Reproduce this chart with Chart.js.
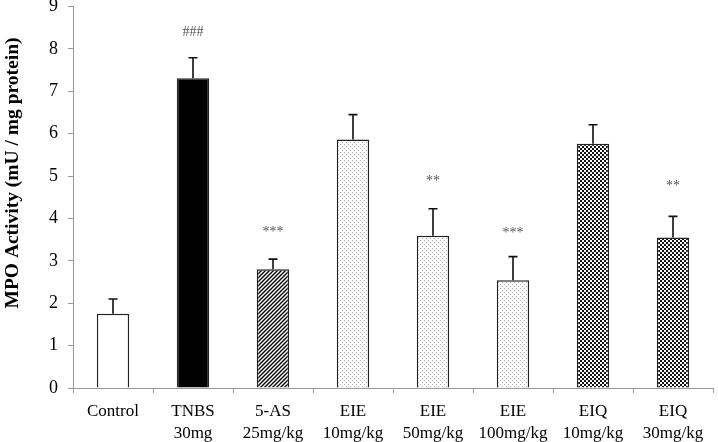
<!DOCTYPE html>
<html>
<head>
<meta charset="utf-8">
<script src="https://cdn.jsdelivr.net/npm/chart.js@4/dist/chart.umd.min.js"></script>
<style>
  html, body { margin: 0; padding: 0; background: #fff; }
  #wrap { width: 718px; height: 442px; position: relative; }
</style>
</head>
<body>
<div id="wrap"><canvas id="c" width="718" height="442"></canvas></div>
<script>
const categories = [
  ['Control'],
  ['TNBS', '30mg'],
  ['5-AS', '25mg/kg'],
  ['EIE', '10mg/kg'],
  ['EIE', '50mg/kg'],
  ['EIE', '100mg/kg'],
  ['EIQ', '10mg/kg'],
  ['EIQ', '30mg/kg']
];
const mpoValues = [1.75, 7.31, 2.80, 5.86, 3.59, 2.54, 5.76, 3.55];
const mpoErrors = [0.35, 0.48, 0.24, 0.59, 0.64, 0.56, 0.45, 0.50];
const significance = ['', '###', '***', '', '**', '***', '', '**'];
const significanceY = [0, 8.38, 3.68, 0, 4.87, 3.66, 0, 4.76];
const fillKinds = ['white', 'black', 'hatch', 'dots', 'dots', 'dots', 'checker', 'checker'];
const yTicks = [0, 1, 2, 3, 4, 5, 6, 7, 8, 9];
const yTitle = 'MPO Activity (mU / mg protein)';

function makePattern(kind) {
  if (kind === 'white') return '#ffffff';
  if (kind === 'black') return '#000000';
  const t = document.createElement('canvas');
  const ctx = t.getContext('2d');
  if (kind === 'hatch') {
    t.width = 4; t.height = 4;
    ctx.fillStyle = '#fff'; ctx.fillRect(0, 0, 4, 4);
    ctx.strokeStyle = '#000'; ctx.lineWidth = 1.4;
    ctx.beginPath();
    ctx.moveTo(-1, 5); ctx.lineTo(5, -1);
    ctx.moveTo(-1, 1); ctx.lineTo(1, -1);
    ctx.moveTo(3, 5); ctx.lineTo(5, 3);
    ctx.stroke();
  } else if (kind === 'dots') {
    t.width = 4; t.height = 4;
    ctx.fillStyle = '#fff'; ctx.fillRect(0, 0, 4, 4);
    ctx.fillStyle = '#a8a8a8';
    ctx.fillRect(0, 0, 1, 1);
    ctx.fillRect(2, 2, 1, 1);
  } else if (kind === 'checker') {
    t.width = 4; t.height = 4;
    ctx.fillStyle = '#fff'; ctx.fillRect(0, 0, 4, 4);
    ctx.fillStyle = '#111';
    ctx.fillRect(0, 0, 2, 2);
    ctx.fillRect(2, 2, 2, 2);
  }
  return ctx.createPattern(t, 'repeat');
}

const serif = '"Liberation Serif", "Times New Roman", serif';

const errorBarPlugin = {
  id: 'errorBars',
  afterDatasetsDraw(chart) {
    const ctx = chart.ctx;
    const meta = chart.getDatasetMeta(0);
    const yScale = chart.scales.y;
    ctx.save();
    ctx.strokeStyle = '#111';
    ctx.lineWidth = 1.6;
    meta.data.forEach((bar, i) => {
      const x = bar.x;
      const yTop = yScale.getPixelForValue(mpoValues[i]);
      const yErr = yScale.getPixelForValue(mpoValues[i] + mpoErrors[i]);
      ctx.beginPath();
      ctx.moveTo(x, yTop);
      ctx.lineTo(x, yErr);
      ctx.moveTo(x - 4.5, yErr);
      ctx.lineTo(x + 4.5, yErr);
      ctx.stroke();
    });
    ctx.fillStyle = '#555';
    ctx.font = '14px ' + serif;
    ctx.textAlign = 'center';
    ctx.textBaseline = 'middle';
    meta.data.forEach((bar, i) => {
      if (significance[i]) {
        ctx.fillText(significance[i], bar.x, yScale.getPixelForValue(significanceY[i]));
      }
    });
    // y-axis title (placed like the reference, slightly above the axis centre)
    ctx.save();
    ctx.translate(13, 173);
    ctx.rotate(-Math.PI / 2);
    ctx.fillStyle = '#000';
    ctx.font = 'bold 19.5px ' + serif;
    ctx.textAlign = 'center';
    ctx.textBaseline = 'middle';
    ctx.fillText(yTitle, 0, 0);
    ctx.restore();
    ctx.restore();
  }
};

new Chart(document.getElementById('c'), {
  type: 'bar',
  data: {
    labels: categories,
    datasets: [{
      data: mpoValues,
      backgroundColor: fillKinds.map(makePattern),
      borderColor: '#222',
      borderWidth: 1.5,
      barPercentage: 0.405,
      categoryPercentage: 1.0
    }]
  },
  options: {
    responsive: false,
    animation: false,
    layout: { padding: { top: 6.5, right: 5, left: 0, bottom: 0 } },
    plugins: { legend: { display: false }, tooltip: { enabled: false } },
    scales: {
      x: {
        offset: true,
        grid: { offset: true, drawOnChartArea: false, drawTicks: true, tickLength: 5, color: '#999', lineWidth: 1 },
        border: { color: '#999', width: 1 },
        ticks: { color: '#000', padding: 7.5, maxRotation: 0, autoSkip: false,
                 font: { family: serif, size: 17, lineHeight: 1.28 } },
        afterFit(scale) { scale.height = 54; scale.paddingLeft = 0; scale.paddingRight = 0; }
      },
      y: {
        min: 0, max: 9,
        afterBuildTicks(scale) { scale.ticks = yTicks.map(v => ({ value: v })); },
        grid: { drawOnChartArea: false, drawTicks: true, tickLength: 5, color: '#999' },
        border: { color: '#999', width: 1 },
        ticks: { color: '#000', padding: 10, font: { family: serif, size: 18 } },
        title: { display: false },
        afterFit(scale) { scale.width = 73; scale.paddingTop = 0; scale.paddingBottom = 0; }
      }
    }
  },
  plugins: [errorBarPlugin]
});
</script>
</body>
</html>
